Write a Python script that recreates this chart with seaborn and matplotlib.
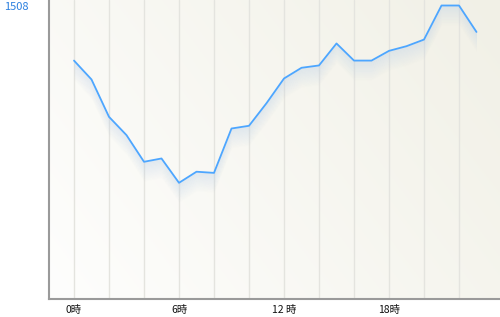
import numpy as np
import pandas as pd
import matplotlib
matplotlib.use("Agg")
import matplotlib.pyplot as plt
import seaborn as sns

hours = list(range(24))
values = [1225, 1128, 936, 842, 705, 722, 597, 654, 648, 876, 890, 1006,
          1133, 1188, 1200, 1313, 1225, 1225, 1275, 1299, 1333, 1508, 1508, 1372]
x_tick_pos = [0, 6, 12, 18]
x_tick_labels = ["0時", "6時", "12 時", "18時"]
y_tick_pos = [1508]
y_tick_labels = ["1508"]

sns.set_style("white")
plt.rcParams['font.family'] = ['Noto Sans CJK JP', 'DejaVu Sans']

df = pd.DataFrame({"hour": hours, "value": values})

fig = plt.figure(figsize=(5.0, 3.17), dpi=100)
ax = fig.add_axes([49/500, 18/317, 451/500, 299/317])

xlim = (-25/17.5, 426/17.5)
ylim = (0, 1508 * 299 / 293.5)
ax.set_xlim(*xlim)
ax.set_ylim(*ylim)

# background gradient (white bottom-left -> cream top-right)
gx, gy = np.meshgrid(np.linspace(0, 1, 200), np.linspace(0, 1, 200))
t = np.clip((gx * 0.8 + gy * 0.4) / 1.2, 0, 1)
c0 = np.array([254, 254, 253]) / 255
c1 = np.array([241, 240, 230]) / 255
img = c0[None, None, :] * (1 - t[..., None]) + c1[None, None, :] * t[..., None]
ax.imshow(img, extent=[xlim[0], xlim[1], ylim[0], ylim[1]], origin="lower",
          aspect="auto", zorder=0)

# vertical grid lines every 2 hours
for h in range(0, 24, 2):
    ax.axvline(h, color="#e4e4df", lw=1.0, zorder=1)

# shadow under the line
vals = np.array(values, dtype=float)
px = (ylim[1] - ylim[0]) / 299.0
for k in range(16):
    off = (k + 1) * 1.2 * px
    ax.fill_between(hours, vals - off, vals - off + 1.2 * px,
                    color="#b4cbe6", alpha=0.35 * (1 - k / 16), lw=0, zorder=2)

sns.lineplot(data=df, x="hour", y="value", ax=ax, color="#4da6ff", lw=1.3, zorder=3)

ax.set_xticks(x_tick_pos)
ax.set_xticklabels(x_tick_labels, fontsize=7.5, color="#111111")
ax.set_yticks(y_tick_pos)
ax.set_yticklabels(y_tick_labels, fontsize=8, color="#2a7fdf", ha="left",
                   va="center_baseline")
ax.tick_params(axis="x", length=0, pad=4)
ax.tick_params(axis="y", length=0, pad=32.5)
ax.set_xlabel("")
ax.set_ylabel("")

for s in ["top", "right"]:
    ax.spines[s].set_visible(False)
for s in ["left", "bottom"]:
    ax.spines[s].set_color("#9a9a9a")
    ax.spines[s].set_linewidth(1.5)
    ax.spines[s].set_zorder(5)

fig.savefig("out.png", dpi=100)
